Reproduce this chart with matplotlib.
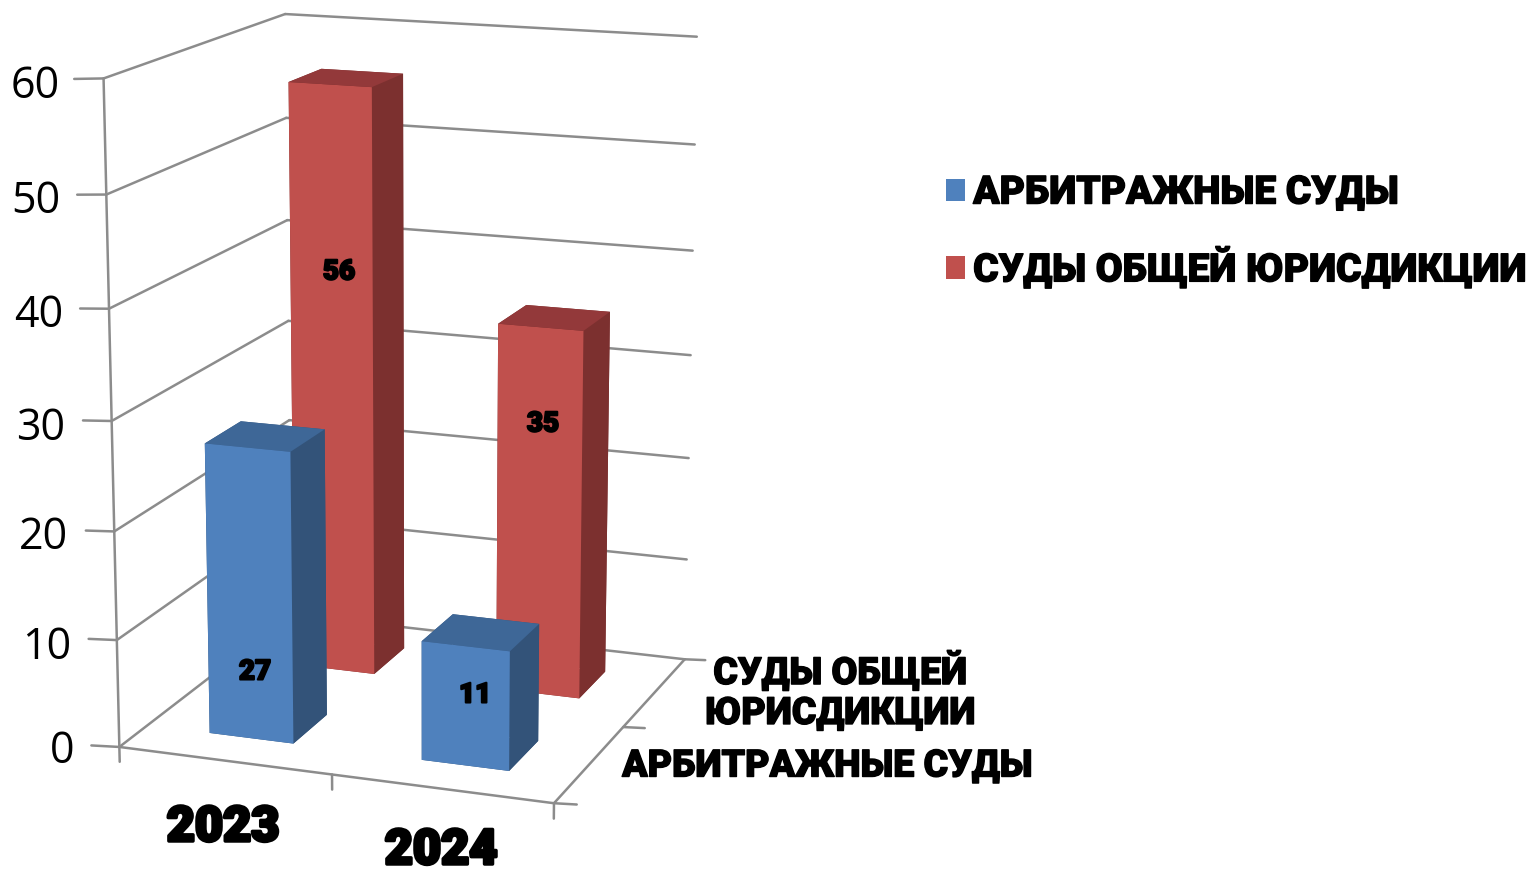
import matplotlib
matplotlib.use("Agg")
import matplotlib.pyplot as plt
import matplotlib.patheffects as pe
from matplotlib.patches import Patch
from mpl_toolkits.mplot3d import Axes3D  # noqa
import numpy as np

W, H = 1538, 872

years = ["2023", "2024"]
series = ["АРБИТРАЖНЫЕ СУДЫ", "СУДЫ ОБЩЕЙ ЮРИСДИКЦИИ"]
arbitr = [27, 11]
general = [56, 35]
z_ticks = [0, 10, 20, 30, 40, 50, 60]

gap_width = 1.5
front = ["#4F81BD", "#C0504D"]
top = ["#3E6797", "#93393A"]
side = ["#335379", "#7C302F"]
grid_col = "#8C8C8C"
heavy_font = "Roboto"

# camera calibration: axes frame corners -> image pixels
frame_3d = [(0, 0, 60), (0, 0, 50), (0, 0, 40), (0, 0, 30), (0, 0, 20), (0, 0, 10), (0, 0, 0),
            (0, 2, 60), (0, 2, 50), (0, 2, 40), (0, 2, 30), (0, 2, 20), (0, 2, 10), (0, 2, 0),
            (2, 2, 60), (2, 2, 50), (2, 2, 40), (2, 2, 30), (2, 2, 20), (2, 2, 10), (2, 2, 0),
            (2, 0, 0), (1, 0, 0)]
frame_px = [(103, 80), (106, 195), (109, 308), (112, 420), (114, 531), (117, 640), (119, 745),
            (284, 14), (286, 118), (288, 219), (289, 320), (290, 420), (291, 519), (291, 617),
            (697, 37), (695, 145), (693, 250), (691, 355), (689, 458), (686, 560), (683, 657),
            (555, 805), (332, 775)]


def fit_camera(pts, px):
    rows = []
    rhs = []
    for (x, y, z), (u, v) in zip(pts, px):
        v = H - v
        rows.append([x, y, z, 1, 0, 0, 0, 0, -u * x, -u * y, -u * z])
        rhs.append(u)
        rows.append([0, 0, 0, 0, x, y, z, 1, -v * x, -v * y, -v * z])
        rhs.append(v)
    p = np.linalg.lstsq(np.array(rows, float), np.array(rhs, float), rcond=None)[0]
    return np.append(p, 1.0).reshape(3, 4)


camera = fit_camera(frame_3d, frame_px)

fig = plt.figure(figsize=(W / 100, H / 100), dpi=100)
side_px = W
ax = fig.add_axes([0, (H - side_px) / 2 / H, 1, side_px / H], projection="3d")
ax.set_axis_off()
ax.set_proj_type("ortho")  # stops line clipping, the matrix itself comes from fixed_proj
ax.computed_zorder = False
ax.patch.set_visible(False)


def fixed_proj():
    a = ax.transData.inverted().get_matrix()
    p = a @ camera
    m = np.vstack([p[0], p[1], p[2], p[2]])
    m[2, 3] -= 0.1
    return m


ax.get_proj = fixed_proj

n_x = len(years)
n_y = len(series)


def line3(xs, ys, zs, lw=1.8):
    ax.plot(xs, ys, zs, color=grid_col, lw=lw, zorder=1, solid_capstyle="round")


# walls and floor
for v in z_ticks:
    line3([0, 0], [0, n_y], [v, v])
    line3([0, n_x], [n_y, n_y], [v, v])
    line3([-0.135, 0], [0, 0], [v - 0.2, v])
line3([0, 0], [0, 0], [0, 60])
line3([0, n_x], [0, 0], [0, 0])
line3([n_x, n_x], [0, n_y], [0, 0])
for i in range(n_x + 1):
    line3([i, i], [0, 0], [0, -1.4])
for j in range(n_y + 1):
    line3([n_x, n_x + 0.1], [j, j], [0, 0.15])

# bars, back row first
bar_w = 1 / (1 + gap_width)
off = (1 - bar_w) / 2
values = [arbitr, general]
order = 2
for j in [1, 0]:
    for i in range(n_x):
        # bottom, top, -y, +y, -x, +x
        cols = [side[j], top[j], front[j], side[j], side[j], side[j]]
        ax.bar3d(i + off, j + off, 0, bar_w, bar_w, values[j][i], color=cols,
                 shade=False, zorder=order)
        order += 1

bold = dict(family=heavy_font, weight=900, color="black", ha="center", va="center")


def label(px, py, s, size, lw=1.0, **kw):
    t = fig.text(px / W, 1 - py / H, s, fontsize=size, **{**bold, **kw})
    t.set_path_effects([pe.withStroke(linewidth=lw, foreground="black")])
    return t


# z axis numbers
tick_x = [74, 71, 68, 65, 63, 60, 60]
tick_y = [752, 648, 538, 429, 316, 202, 87]
for v, x, y in zip(z_ticks, tick_x, tick_y):
    fig.text(x / W, 1 - y / H, str(v), fontsize=31, family="Open Sans", color="black",
             ha="right", va="center")

# numbers on the bars
label_pos = {(1, 0): (339, 272), (1, 1): (543, 424), (0, 0): (255, 672), (0, 1): (475, 695)}
for (j, i), (x, y) in label_pos.items():
    label(x, y, str(values[j][i]), 20, lw=1.5)

label(223, 828, years[0], 35, lw=2.5)
label(441, 851, years[1], 35, lw=2.5)
label(840, 691, "СУДЫ ОБЩЕЙ\nЮРИСДИКЦИИ", 27, lw=1.0, linespacing=1.1)
label(827, 766, series[0], 27, lw=1.0)

handles = [Patch(facecolor=front[0]), Patch(facecolor=front[1])]
leg = fig.legend(handles, series, loc="upper left", bbox_to_anchor=(930 / W, 1 - 159 / H),
                 frameon=False, prop=dict(family=heavy_font, weight=900, size=28),
                 handlelength=0.51, handleheight=0.51, handletextpad=0.2, labelspacing=0.92,
                 borderaxespad=0, borderpad=0.4)
for t in leg.get_texts():
    t.set_path_effects([pe.withStroke(linewidth=1.0, foreground="black")])

fig.savefig("out.png", dpi=100)
